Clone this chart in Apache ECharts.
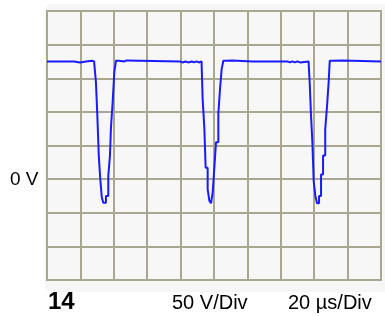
<!DOCTYPE html>
<html>
<head>
<meta charset="utf-8">
<script src="https://cdn.jsdelivr.net/npm/echarts@6/dist/echarts.min.js"></script>
<style>
html, body { margin: 0; padding: 0; background: #fff; }
#main { width: 385px; height: 316px; }
</style>
</head>
<body>
<div id="main"></div>
<script>
var chart = echarts.init(document.getElementById('main'));

// time in microseconds, voltage in volts
var times = [
    0, 16.2, 19.8, 23.4, 26.9,
    28.3, 29.3, 30.1, 31.0, 31.9, 32.8, 33.7, 35.3, 36.7, 37.7, 38.3, 39.3, 40.3, 41.3,
    43.0, 46.4, 47.6, 79.6, 81.0, 83.0, 84.5, 86.7, 88.0, 89.5, 91.0,
    92.6, 93.2, 94.2, 95.0, 96.2, 97.2, 98.2, 99.2, 100.2, 101.2, 102.6, 103.6, 104.6, 105.6,
    107.5, 111.0, 123.2, 124.0, 144.0, 145.5, 147.0, 148.5, 150.0, 151.5,
    156.7, 157.3, 158.1, 158.9, 159.7, 160.7, 161.7, 162.9, 164.1, 165.3, 166.6, 167.7, 168.7, 169.3,
    171.0, 177.0, 200
];
var volts = [
    175, 173.5, 175, 176, 175,
    172, 144, 97, 35, 0, -27, -35, -25, 5, 35, 77, 114, 159, 176,
    175, 176.5, 175, 173.5, 175, 173.5, 175, 173.5, 175, 173.5, 175,
    170, 119, 77, 17, -15, -32, -36, -20, 17, 55, 97, 134, 164, 176,
    176.5, 175, 173.5, 175, 173.5, 175, 173.5, 175, 173.5, 175,
    171, 144, 94, 55, -3, -25, -36, -25, 7, 35, 74, 109, 146, 176,
    176.5, 175, 175
];

// sample-and-hold: each value is held until the next sample time
var trace = [];
times.forEach(function (t, i) {
    trace.push([t, volts[i]]);
    if (i < times.length - 1) trace.push([times[i + 1], volts[i]]);
});

var gridColor = '#a9a78f';
var fontFamily = '"Liberation Sans", Arial, sans-serif';

var option = {
    animation: false,
    graphic: [{
        type: 'rect',
        shape: { x: 45, y: 4, width: 345, height: 288, r: 6 },
        style: { fill: '#f6f6f6' },
        z: -10
    }, {
        type: 'text',
        left: 10,
        top: 170,
        style: { text: '0 V', font: '19px ' + fontFamily, fill: '#000' }
    }, {
        type: 'text',
        left: 48,
        top: 290,
        style: { text: '14', font: 'bold 24px ' + fontFamily, fill: '#000' }
    }, {
        type: 'text',
        left: 172,
        top: 293,
        style: { text: '50 V/Div', font: '20px ' + fontFamily, fill: '#000' }
    }, {
        type: 'text',
        left: 288,
        top: 293,
        style: { text: '20 \u00b5s/Div', font: '20px ' + fontFamily, fill: '#000' }
    }],
    grid: {
        left: 47,
        top: 11,
        right: 4,
        bottom: 36,
        show: true,
        backgroundColor: '#f7f7f7',
        borderColor: gridColor,
        borderWidth: 2
    },
    xAxis: {
        type: 'value',
        min: 0,
        max: 200,
        interval: 20,
        axisLine: { show: false },
        axisTick: { show: false },
        axisLabel: { show: false },
        splitLine: { lineStyle: { color: gridColor, width: 2 } }
    },
    yAxis: {
        type: 'value',
        min: -150,
        max: 250,
        interval: 50,
        axisLine: { show: false },
        axisTick: { show: false },
        axisLabel: { show: false },
        splitLine: { lineStyle: { color: gridColor, width: 2 } }
    },
    series: [{
        type: 'line',
        data: trace,
        showSymbol: false,
        lineStyle: { color: '#1a1aff', width: 2 }
    }]
};

chart.setOption(option);
</script>
</body>
</html>
